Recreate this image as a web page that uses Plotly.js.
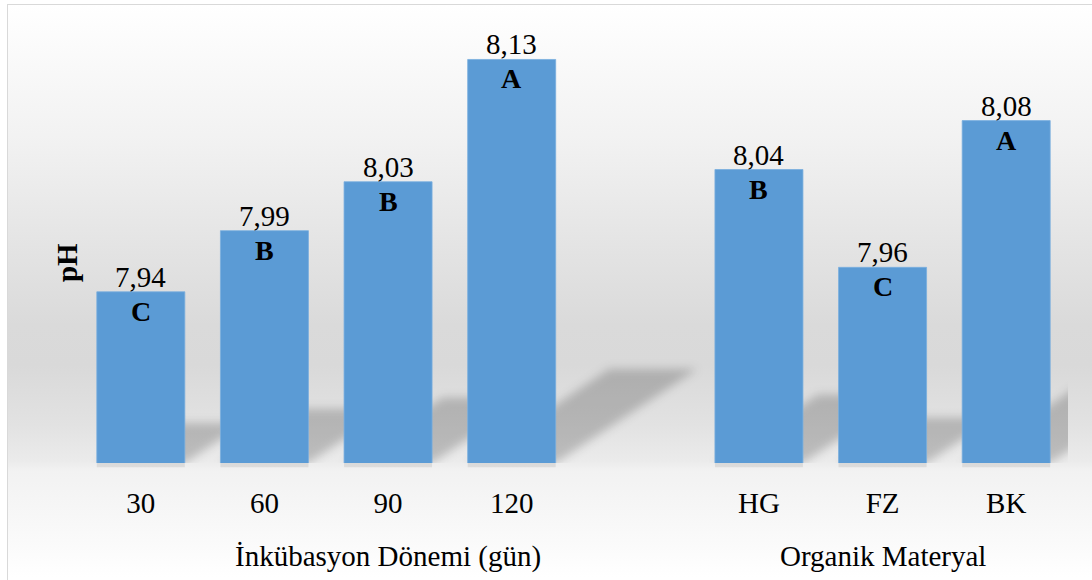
<!DOCTYPE html>
<html>
<head>
<meta charset="utf-8">
<script src="https://cdn.plot.ly/plotly-3.0.1.min.js"></script>
<style>
  html, body { margin: 0; padding: 0; width: 1092px; height: 580px; overflow: hidden; background: #ffffff; }
  #frame {
    position: absolute; left: 7px; top: 4px; width: 1200px; height: 700px;
    box-sizing: border-box; border: 1.5px solid #d9d9d9;
    background: linear-gradient(to bottom,
      #ffffff 0px, #fbfbfb 40px, #f1f1f1 140px, #e4e4e4 240px,
      #dadada 320px, #d9d9d9 360px, #e2e2e2 420px, #ebebeb 456px,
      #f2f2f2 466px, #f8f8f8 520px, #ffffff 572px, #ffffff 700px);
  }
  #chart { position: absolute; left: 0; top: 0; width: 1092px; height: 580px; }
</style>
</head>
<body>
<div id="frame"></div>
<div id="chart"></div>
<script>
// pH means with significance letters, two factor groups
const incubationDays = ['30', '60', '90', '120'];
const incubationPH = [7.94, 7.99, 8.03, 8.13];
const incubationLetters = ['C', 'B', 'B', 'A'];

const materials = ['HG', 'FZ', 'BK'];
const materialPH = [8.04, 7.96, 8.08];
const materialLetters = ['B', 'C', 'A'];

const groupTitles = ['İnkübasyon Dönemi (gün)', 'Organik Materyal'];
const yTitle = 'pH';
const yBase = 7.8;
const yTop = 8.15;

const FONT = 'Liberation Serif, Times New Roman, serif';
const BAR_COLOR = '#5b9bd5';
const BAR_WIDTH = 0.712;

// slot positions: first group, one empty slot, second group
const xsA = incubationDays.map((_, i) => i);
const xsB = materials.map((_, i) => incubationDays.length + 1 + i);
const xs = xsA.concat(xsB);
const ys = incubationPH.concat(materialPH);
const tickLabels = incubationDays.concat(materials);
const letters = incubationLetters.concat(materialLetters);
const groupCenters = [
  (xsA[0] + xsA[xsA.length - 1] + 1) / 2,
  (xsB[0] + xsB[xsB.length - 1]) / 2
];

const fmt = v => v.toFixed(2).replace('.', ',');

const trace = {
  type: 'bar',
  x: xs,
  y: ys,
  base: 0,
  width: BAR_WIDTH,
  marker: { color: BAR_COLOR, line: { color: '#7aaede', width: 0.8 } },
  hoverinfo: 'skip'
};

// perspective floor shadows cast up and to the right of each bar
const SHADOW_DX = 3.47;   // x units per unit of bar height
const SHADOW_DY = 0.233;  // fraction of bar height
const shadowShapes = xs.map((x, i) => {
  const h = ys[i] - yBase;
  const l = x - BAR_WIDTH / 2, r = x + BAR_WIDTH / 2;
  const dx = SHADOW_DX * h, top = yBase + SHADOW_DY * h;
  return {
    type: 'path', xref: 'x', yref: 'y', layer: 'below',
    path: `M${l},${yBase} L${r},${yBase} L${r + dx},${top} L${l + dx},${top} Z`,
    fillcolor: 'rgba(0,0,0,0.2)', line: { width: 0 }
  };
});
// thin soft contact shadow just under each bar foot
const footShapes = xs.map(x => ({
  type: 'rect', xref: 'x', yref: 'paper', layer: 'below',
  x0: x - BAR_WIDTH / 2, x1: x + BAR_WIDTH / 2, y0: -0.01, y1: 0,
  fillcolor: 'rgba(0,0,0,0.08)', line: { width: 0 }
}));

const annotations = [];
xs.forEach((x, i) => {
  annotations.push({
    x: x, y: ys[i], xref: 'x', yref: 'y', text: fmt(ys[i]),
    showarrow: false, yanchor: 'bottom', yshift: -3,
    font: { family: FONT, size: 29, color: '#000' }
  });
  annotations.push({
    x: x, y: ys[i], xref: 'x', yref: 'y', text: '<b>' + letters[i] + '</b>',
    showarrow: false, yanchor: 'top', yshift: -2,
    font: { family: FONT, size: 28, color: '#000' }
  });
});
groupTitles.forEach((t, i) => {
  annotations.push({
    x: groupCenters[i], y: 0, xref: 'x', yref: 'paper', text: t,
    showarrow: false, yanchor: 'top', yshift: -75,
    font: { family: FONT, size: 29, color: '#000' }
  });
});
annotations.push({
  x: 0, y: 0.467, xref: 'paper', yref: 'paper', text: '<b>' + yTitle + '</b>',
  textangle: -90, showarrow: false, xanchor: 'center', yanchor: 'middle', xshift: -12,
  font: { family: FONT, size: 29, color: '#000' }
});

const layout = {
  width: 1092, height: 580,
  margin: { l: 79, r: 24, t: 35, b: 117, pad: 0 },
  paper_bgcolor: 'rgba(0,0,0,0)',
  plot_bgcolor: 'rgba(0,0,0,0)',
  showlegend: false,
  font: { family: FONT, size: 29, color: '#000' },
  xaxis: {
    range: [-0.5, 7.5], tickvals: xs, ticktext: tickLabels,
    ticks: '', showgrid: false, zeroline: false, showline: false,
    ticklabelstandoff: 20, tickfont: { family: FONT, size: 29, color: '#000' }
  },
  yaxis: {
    range: [yBase, yTop], showticklabels: false, showgrid: false,
    zeroline: false, showline: false, ticks: ''
  },
  shapes: shadowShapes.concat(footShapes),
  annotations: annotations,
  bargap: 0
};

Plotly.newPlot('chart', [trace], layout, { staticPlot: true, displayModeBar: false }).then(gd => {
  // soften the floor shadows
  const ns = 'http://www.w3.org/2000/svg';
  const svg = gd.querySelector('svg.main-svg');
  let defs = svg.querySelector('defs');
  if (!defs) { defs = document.createElementNS(ns, 'defs'); svg.insertBefore(defs, svg.firstChild); }
  const filter = document.createElementNS(ns, 'filter');
  filter.setAttribute('id', 'shadowBlur');
  filter.setAttribute('x', '-30%'); filter.setAttribute('y', '-30%');
  filter.setAttribute('width', '160%'); filter.setAttribute('height', '160%');
  const blur = document.createElementNS(ns, 'feGaussianBlur');
  blur.setAttribute('stdDeviation', '5');
  filter.appendChild(blur);
  defs.appendChild(filter);
  gd.querySelectorAll('.shapelayer path[data-index]').forEach(p => {
    if (parseInt(p.getAttribute('data-index'), 10) < shadowShapes.length) {
      p.setAttribute('filter', 'url(#shadowBlur)');
    }
  });
});
</script>
</body>
</html>
